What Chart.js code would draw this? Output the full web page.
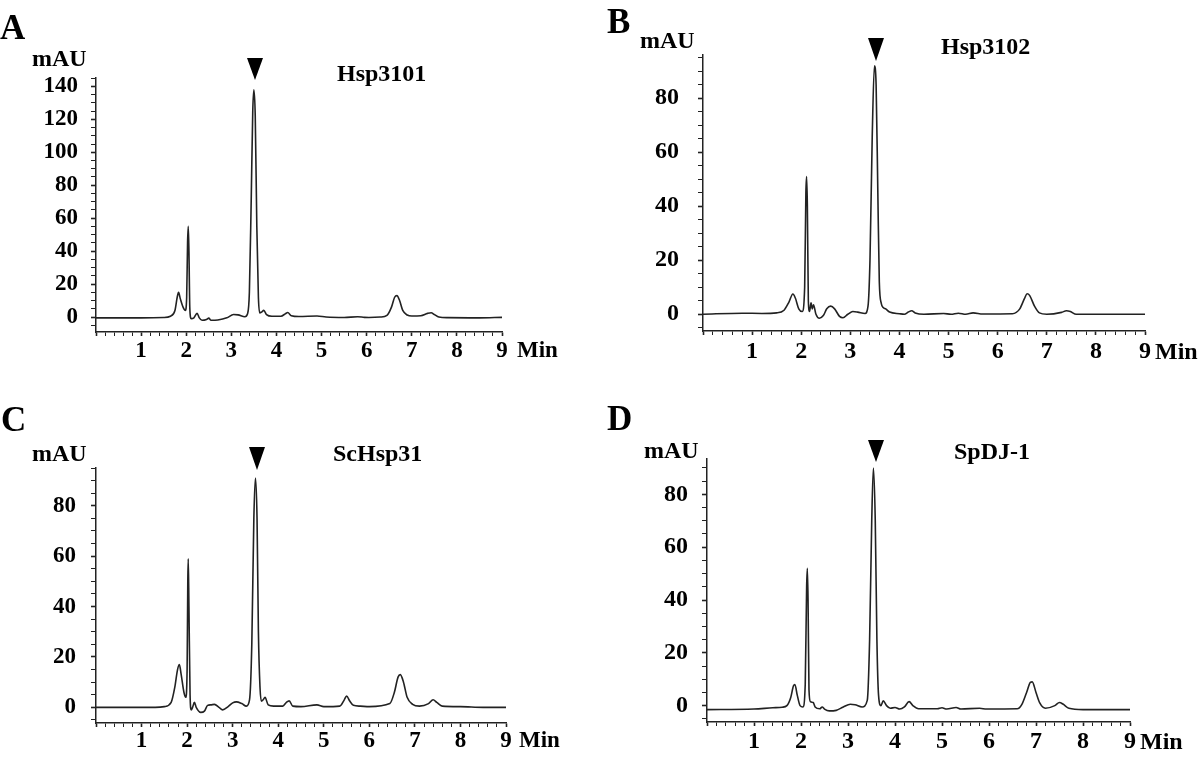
<!DOCTYPE html>
<html>
<head>
<meta charset="utf-8">
<script src="https://cdn.jsdelivr.net/npm/chart.js@4.4.1/dist/chart.umd.min.js"></script>
<style>
body{margin:0;background:#fff;width:1200px;height:758px;position:relative;overflow:hidden;font-family:"Liberation Serif","Times New Roman",serif;font-weight:bold;color:#000}
canvas{position:absolute}
.t{position:absolute;line-height:1;white-space:nowrap}
.tri{position:absolute;width:0;height:0;border-style:solid;border-color:#000 transparent transparent transparent}
</style>
</head>
<body>
<canvas id="cA" width="600" height="380" style="left:0;top:0"></canvas>
<canvas id="cB" width="600" height="380" style="left:600px;top:0"></canvas>
<canvas id="cC" width="600" height="378" style="left:0;top:380px"></canvas>
<canvas id="cD" width="600" height="378" style="left:600px;top:380px"></canvas>

<div class="t" style="left:0;top:10px;font-size:35px">A</div>
<div class="t" style="left:32px;top:46px;font-size:24px">mAU</div>
<div class="t" style="left:337px;top:61px;font-size:24px">Hsp3101</div>
<div class="tri" style="left:247px;top:58px;border-width:22px 8px 0 8px"></div>
<div class="t" style="left:517px;top:338px;font-size:23px">Min</div>

<div class="t" style="left:607px;top:4px;font-size:35px">B</div>
<div class="t" style="left:640px;top:28px;font-size:24px">mAU</div>
<div class="t" style="left:941px;top:34px;font-size:24px">Hsp3102</div>
<div class="tri" style="left:868px;top:38px;border-width:23px 8px 0 8px"></div>
<div class="t" style="left:1155px;top:339px;font-size:24px">Min</div>

<div class="t" style="left:1px;top:402px;font-size:35px">C</div>
<div class="t" style="left:32px;top:441px;font-size:24px">mAU</div>
<div class="t" style="left:333px;top:441px;font-size:24px">ScHsp31</div>
<div class="tri" style="left:249px;top:447px;border-width:23px 8px 0 8px"></div>
<div class="t" style="left:519px;top:728px;font-size:23px">Min</div>

<div class="t" style="left:607px;top:401px;font-size:35px">D</div>
<div class="t" style="left:644px;top:438px;font-size:24px">mAU</div>
<div class="t" style="left:954px;top:439px;font-size:24px">SpDJ-1</div>
<div class="tri" style="left:868px;top:440px;border-width:22px 8px 0 8px"></div>
<div class="t" style="left:1140px;top:729px;font-size:24px">Min</div>

<script>
// [min, mAU]
const traceA = [[0,-0.5],[1.0,-0.5],[1.5,-0.3],[1.65,0.5],[1.75,4],[1.80,12],[1.83,15],[1.87,11],[1.93,6],[1.98,4],
  [2.01,12],[2.03,45],[2.045,55],[2.06,40],[2.08,5],[2.11,-1],[2.17,-0.5],[2.24,2.2],[2.29,-0.5],[2.35,-2],
  [2.45,-1.5],[2.5,-0.7],[2.55,-2],[2.7,-1.8],[2.9,-0.5],[3.05,1.5],[3.15,1.3],[3.3,0.2],[3.36,2],[3.40,15],
  [3.44,70],[3.475,125],[3.50,138],[3.53,122],[3.565,55],[3.6,12],[3.63,2.5],[3.67,3],[3.72,4],[3.78,1.5],
  [3.9,0.5],[4.1,0.5],[4.2,2],[4.25,2.7],[4.33,0.8],[4.5,0.3],[4.9,0.6],[5.1,0],[5.5,-0.3],[5.8,0.2],
  [5.95,-0.2],[6.05,-0.3],[6.3,0],[6.45,1],[6.55,6],[6.62,12],[6.67,13],[6.73,10],[6.8,4],[6.9,1.2],
  [7.0,0.6],[7.2,0.8],[7.35,2.2],[7.43,2.6],[7.5,1.5],[7.6,0],[7.8,-0.4],[8.5,-0.5],[9.0,-0.2]]

const traceB = [[0,0],[0.8,0.4],[1.2,0.3],[1.5,0.5],[1.65,1.5],[1.75,4.5],[1.83,7.5],[1.88,6],[1.95,2],[2.02,1],
  [2.07,10],[2.095,45],[2.11,51],[2.125,40],[2.145,5],[2.17,1],[2.2,4.2],[2.225,2],[2.25,3.5],[2.3,0],
  [2.37,-1.5],[2.45,-0.5],[2.52,2],[2.6,3],[2.68,2],[2.78,-0.8],[2.85,-1.3],[2.95,0],[3.05,1],[3.15,0.8],
  [3.3,0.3],[3.36,3],[3.40,20],[3.445,65],[3.49,92],[3.525,85],[3.56,45],[3.59,12],[3.63,4],[3.67,2.5],
  [3.72,2],[3.8,0.8],[4.0,0.2],[4.1,0],[4.18,0.8],[4.25,1.3],[4.32,0.5],[4.5,0],[4.9,0.3],[5.05,0],
  [5.2,0.4],[5.35,0],[5.5,0.5],[5.7,0.1],[6.3,0.2],[6.45,2],[6.55,6],[6.6,7.6],[6.65,7],[6.75,3],
  [6.85,0.5],[7.0,0],[7.3,0.7],[7.4,1.3],[7.48,1],[7.6,0],[8,0],[9,0]]

const traceC = [[0,0],[1.3,0],[1.5,0.3],[1.65,2],[1.73,8],[1.79,15],[1.83,17],[1.87,13],[1.93,6],[1.97,4],
  [2.0,15],[2.015,50],[2.025,59],[2.04,40],[2.065,5],[2.09,-1],[2.12,0],[2.16,2],[2.2,0],[2.3,-2],
  [2.38,-1.5],[2.45,0.8],[2.52,1],[2.6,1.2],[2.7,0],[2.78,-1],[2.9,0.3],[3.0,1.8],[3.08,2.2],[3.2,1.5],
  [3.3,0.5],[3.37,3],[3.42,25],[3.465,75],[3.5,91],[3.535,75],[3.565,30],[3.6,8],[3.63,2.5],[3.67,3],
  [3.71,4],[3.78,1],[3.9,0.5],[4.1,0.5],[4.18,2],[4.24,2.6],[4.32,0.5],[4.5,0.3],[4.85,1],[5.0,0.3],
  [5.35,0.5],[5.45,3],[5.5,4.5],[5.57,2.5],[5.65,0.8],[5.8,0.5],[6.0,0.3],[6.45,1.5],[6.55,6],[6.63,12],
  [6.68,13],[6.75,10],[6.83,4],[6.95,1.2],[7.1,0.5],[7.3,1.5],[7.4,3],[7.48,2],[7.6,0.5],[8.0,0.3],
  [8.5,0],[9.0,0]]

const traceD = [[0,-1.5],[1.0,-1.3],[1.4,-0.8],[1.6,-0.6],[1.7,0],[1.78,3],[1.84,7.5],[1.87,8],[1.92,4],[1.98,0],
  [2.04,-0.5],[2.09,8],[2.12,45],[2.135,52],[2.15,40],[2.17,6],[2.2,1.5],[2.26,1.2],[2.3,-0.5],[2.4,-1.2],
  [2.45,-0.5],[2.5,-1.3],[2.6,-2],[2.75,-1.8],[2.9,-0.5],[3.05,0.5],[3.15,0.3],[3.3,-0.5],[3.41,2],[3.46,25],
  [3.505,70],[3.54,90],[3.58,70],[3.615,25],[3.65,4],[3.7,0],[3.75,1.8],[3.82,0],[3.9,-1],[4.0,-0.7],
  [4.1,-1.3],[4.2,-0.5],[4.3,1.5],[4.38,0],[4.5,-1.2],[4.9,-1.2],[5.0,-0.8],[5.1,-1.3],[5.3,-0.7],[5.4,-1.3],
  [5.8,-1],[5.95,-1.3],[6.6,-1.2],[6.7,0.5],[6.8,5],[6.88,8.8],[6.92,9],[7.0,5],[7.08,1],[7.2,-1],
  [7.4,0],[7.5,1.2],[7.58,0.5],[7.7,-1],[8.0,-1.5],[9.0,-1.5]]

const xRange = [0, 9]
const yRangeA = [-9.1, 145.1]
const yRangeB = [-6.2, 96]
const yRangeC = [-6.2, 95]
const yRangeD = [-6.2, 93.4]

function tickFont(size){
  return {family: "'Liberation Serif', 'Times New Roman', serif", weight: "bold", size: size}
}

function build(id, trace, yr, o){
  return new Chart(document.getElementById(id), {
    type: "scatter",
    data: {
      datasets: [{
        data: trace.map(p => ({x: p[0], y: p[1]})),
        showLine: true,
        borderColor: "#222",
        borderWidth: 1.6,
        pointRadius: 0,
        cubicInterpolationMode: "monotone",
        fill: false
      }]
    },
    options: {
      responsive: false,
      animation: false,
      layout: {padding: {top: o.top, right: o.right, left: 0, bottom: 0}},
      plugins: {legend: {display: false}, tooltip: {enabled: false}},
      scales: {
        x: {
          type: "linear", min: xRange[0], max: xRange[1],
          afterBuildTicks: s => {
            s.ticks = []
            for (let i = 0; i <= 45; i++) s.ticks.push({value: i / 5})
          },
          afterFit: s => { s.height = o.xh },
          ticks: {
            autoSkip: false, maxRotation: 0, padding: o.xpad, color: "#000", font: tickFont(o.fs),
            callback: v => { const k = Math.round(v * 5); return (k % 5 === 0 && k > 0) ? String(k / 5) : "" }
          },
          grid: {
            drawOnChartArea: false, tickLength: 4, tickColor: "#222",
            tickWidth: c => (Math.round(c.tick.value * 5) % 5 === 0 ? 1.6 : 1)
          },
          border: {color: "#222", width: 1.5}
        },
        y: {
          min: yr[0], max: yr[1],
          afterBuildTicks: s => {
            s.ticks = []
            for (let v = -5; v <= yr[1]; v += 5) s.ticks.push({value: v})
          },
          afterFit: s => { s.width = o.yw },
          ticks: {
            autoSkip: false, padding: o.ypad, color: "#000", font: tickFont(o.fs),
            callback: v => (v >= 0 && Math.round(v) % 20 === 0) ? String(v) : ""
          },
          grid: {
            drawOnChartArea: false, tickLength: 5, tickColor: "#222",
            tickWidth: c => (Math.round(c.tick.value) % 20 === 0 ? 1.6 : 1)
          },
          border: {color: "#222", width: 1.5}
        }
      }
    }
  })
}

build("cA", traceA, yRangeA, {top: 78, right: 98, xh: 48, yw: 96, xpad: 1, ypad: 13, fs: 23})
build("cB", traceB, yRangeB, {top: 55, right: 55, xh: 49, yw: 103, xpad: 2, ypad: 19, fs: 24})
build("cC", traceC, yRangeC, {top: 88, right: 94, xh: 35, yw: 96, xpad: 0, ypad: 15, fs: 23})
build("cD", traceD, yRangeD, {top: 79, right: 70, xh: 36, yw: 107, xpad: 1, ypad: 14, fs: 24})
</script>
</body>
</html>
